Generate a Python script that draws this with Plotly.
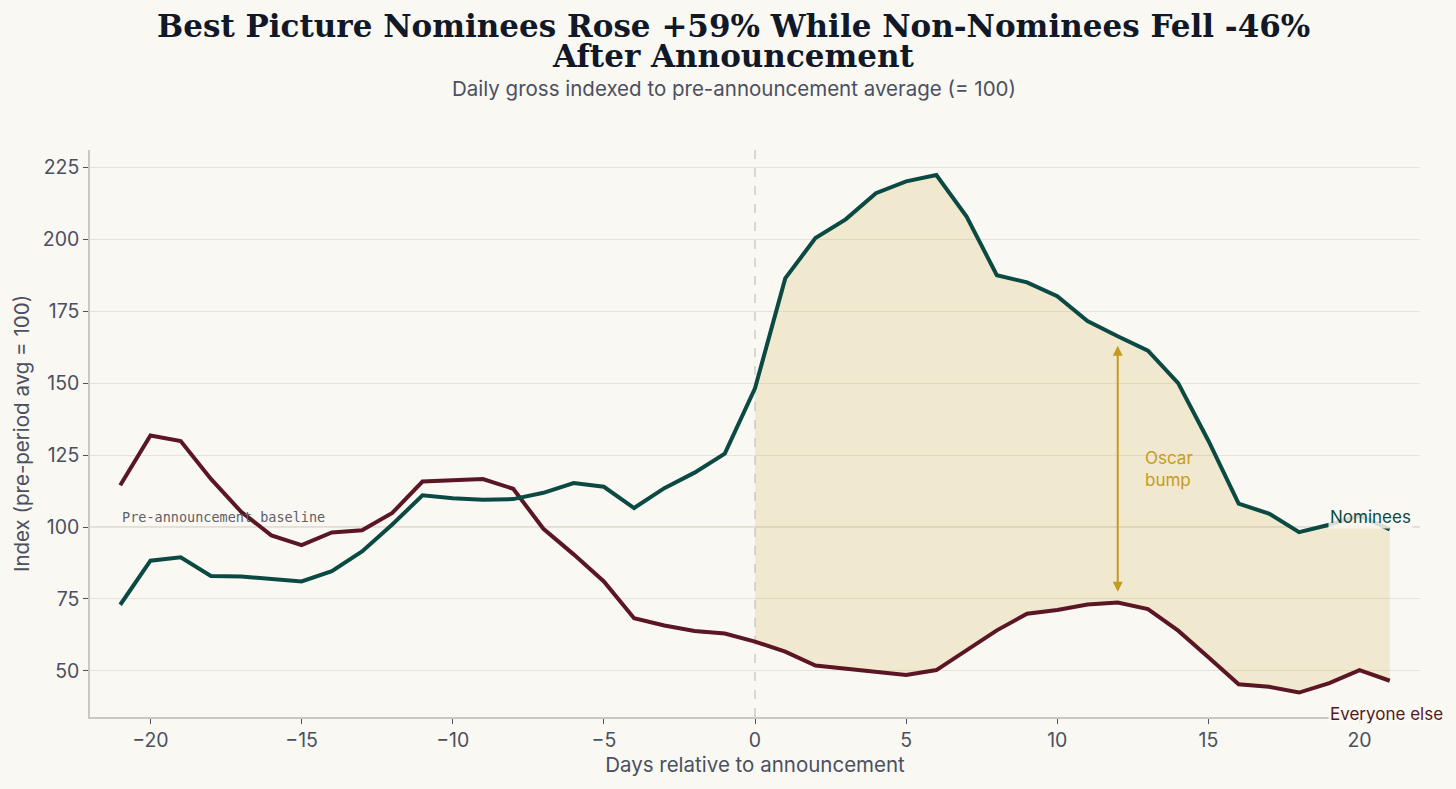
import plotly.graph_objects as go

days = list(range(-21, 22))

nominees = [73, 88.3, 89.5, 83.0, 82.8, 82.0, 81.1, 84.7, 91.5, 100.9, 111.0,
            110.0, 109.5, 109.7, 111.9, 115.3, 114.0, 106.6, 113.5, 118.9, 125.5,
            148.2, 186.4, 200.4, 206.9, 216.0, 220.1, 222.3, 207.9, 187.5, 185.0,
            180.2, 171.6, 166.3, 161.3, 150.0, 130.0, 108.1, 104.7, 98.2, 100.8,
            104.0, 99.2]

everyone_else = [114.5, 131.8, 129.9, 116.7, 105.3, 97.1, 93.7, 98.1, 98.9, 104.9,
                 115.8, 116.4, 116.7, 113.3, 99.4, 90.5, 81.1, 68.3, 65.8, 63.9,
                 63.0, 60.2, 56.7, 51.9, 50.9, 49.6, 48.6, 50.3, 57.3, 64.1, 69.9,
                 71.2, 73.1, 73.8, 71.5, 64.0, 54.8, 45.4, 44.5, 42.5, 45.8, 50.3,
                 46.6]

bump_day = 12
bump_top = 163
bump_bottom = 77

BG = "#FAF8F3"
TEAL = "#0B4A43"
MAROON = "#5A1623"
GOLD = "#C59B1E"
TEXT = "#4B5060"

post = [i for i, d in enumerate(days) if d >= 0]
post_days = [days[i] for i in post]

fig = go.Figure()

# shaded gap after announcement
fig.add_trace(go.Scatter(x=post_days, y=[everyone_else[i] for i in post],
                         mode="lines", line=dict(width=0), hoverinfo="skip",
                         showlegend=False))
fig.add_trace(go.Scatter(x=post_days, y=[nominees[i] for i in post],
                         mode="lines", line=dict(width=0), fill="tonexty",
                         fillcolor="rgba(205,168,70,0.2)", hoverinfo="skip",
                         showlegend=False))

fig.add_trace(go.Scatter(x=days, y=everyone_else, mode="lines",
                         line=dict(color=MAROON, width=4), name="Everyone else",
                         showlegend=False))
fig.add_trace(go.Scatter(x=days, y=nominees, mode="lines",
                         line=dict(color=TEAL, width=4), name="Nominees",
                         showlegend=False))

fig.add_shape(type="line", xref="paper", x0=0, x1=1, y0=100, y1=100,
              line=dict(color="#DAD6CD", width=1.5), layer="below")
fig.add_shape(type="line", yref="paper", x0=0, x1=0, y0=0, y1=1,
              line=dict(color="#CFCBC3", width=1.5, dash="dash"), layer="below")

fig.add_annotation(x=-21, y=103.5, text="Pre-announcement baseline", showarrow=False,
                   xanchor="left", yanchor="middle",
                   font=dict(family="DejaVu Sans Mono", size=13.5, color="#5F6168"))

fig.add_annotation(x=bump_day, y=bump_top, ax=bump_day, ay=bump_bottom,
                   xref="x", yref="y", axref="x", ayref="y", text="",
                   showarrow=True, arrowhead=2, arrowside="end+start",
                   arrowsize=1, arrowwidth=2, arrowcolor=GOLD)
fig.add_annotation(x=12.85, y=120, text="Oscar<br>bump", showarrow=False,
                   xanchor="left", align="left",
                   font=dict(family="Inter", size=17, color=GOLD))

fig.add_annotation(x=18.95, y=103.5, text="Nominees", showarrow=False,
                   xanchor="left", yanchor="middle",
                   bgcolor="rgba(250,248,243,0.85)",
                   font=dict(family="Inter", size=17, color=TEAL))
fig.add_annotation(x=18.95, y=35, text="Everyone else", showarrow=False,
                   xanchor="left", yanchor="middle", bgcolor="rgba(250,248,243,0.9)",
                   font=dict(family="Inter", size=17, color=MAROON))

# title lines and subtitle
fig.add_annotation(xref="paper", yref="paper", x=0.484, y=1.218, yanchor="middle",
                   text="<b>Best Picture Nominees Rose +59% While Non-Nominees Fell -46%</b>",
                   showarrow=False,
                   font=dict(family="DejaVu Serif", size=31, color="#111827"))
fig.add_annotation(xref="paper", yref="paper", x=0.484, y=1.166, yanchor="middle",
                   text="<b>After Announcement</b>", showarrow=False,
                   font=dict(family="DejaVu Serif", size=31, color="#111827"))
fig.add_annotation(xref="paper", yref="paper", x=0.484, y=1.109, yanchor="middle",
                   text="Daily gross indexed to pre-announcement average (= 100)",
                   showarrow=False, font=dict(family="Inter", size=20.5, color=TEXT))

fig.update_layout(
    width=1456, height=789,
    paper_bgcolor=BG, plot_bgcolor=BG,
    margin=dict(l=90, r=36, t=150, b=72),
    font=dict(family="Inter", color=TEXT),
)

fig.update_xaxes(range=[-22, 22], tickvals=[-20, -15, -10, -5, 0, 5, 10, 15, 20],
                 showgrid=False, zeroline=False, showline=True, linecolor="#CBC8C1",
                 linewidth=1.5, ticks="outside", ticklen=5, tickcolor="#4B5060",
                 tickfont=dict(size=19.5, color=TEXT),
                 title=dict(text="Days relative to announcement",
                            font=dict(size=20.5, color=TEXT), standoff=6))
fig.update_yaxes(range=[34, 231], tickvals=[50, 75, 100, 125, 150, 175, 200, 225],
                 showgrid=True, gridcolor="#E7E3DB", gridwidth=1, zeroline=False,
                 showline=True, linecolor="#CBC8C1", linewidth=1.5,
                 ticks="outside", ticklen=5, tickcolor="#4B5060",
                 tickfont=dict(size=19.5, color=TEXT),
                 title=dict(text="Index (pre-period avg = 100)",
                            font=dict(size=20.5, color=TEXT), standoff=8))

fig.write_html("out.html", config={"displayModeBar": False},
               post_script="document.body.style.margin='0';"
                           "document.body.style.background='#FAF8F3';")
